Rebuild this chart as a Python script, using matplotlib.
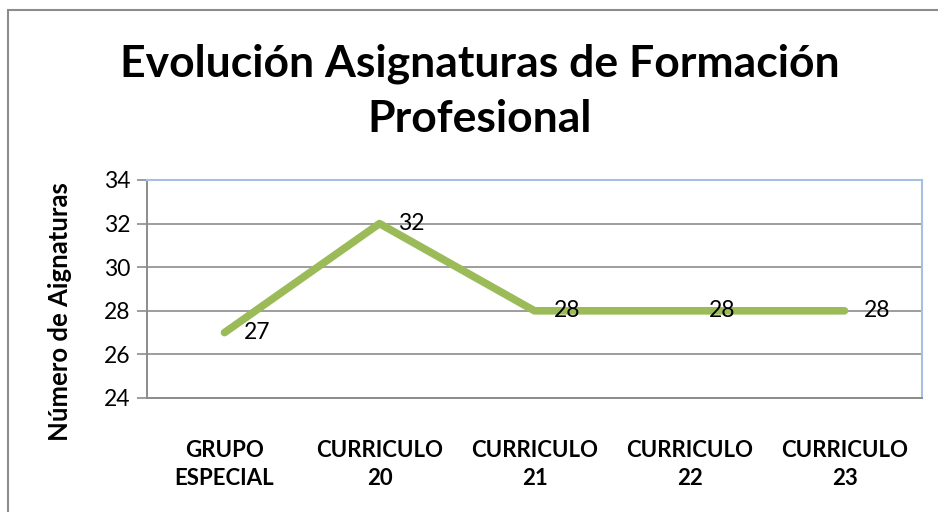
import matplotlib.pyplot as plt
from matplotlib.patches import Rectangle

categories = ['GRUPO\nESPECIAL', 'CURRICULO\n20', 'CURRICULO\n21', 'CURRICULO\n22', 'CURRICULO\n23']
values = [27, 32, 28, 28, 28]
y_ticks = [24, 26, 28, 30, 32, 34]

plt.rcParams['font.family'] = ['Lato', 'DejaVu Sans']

W, H = 938, 512
fig = plt.figure(figsize=(W / 100, H / 100), dpi=100)
ax = fig.add_axes([147 / W, 1 - 398 / H, (922 - 147) / W, (398 - 180) / H])

# outer chart border
fig.patches.append(Rectangle((8 / W, -0.1), 1.2, 1 - 10 / H + 0.1, transform=fig.transFigure,
                             fill=False, edgecolor='#8c8c8c', linewidth=1.5))

x = list(range(len(categories)))
ax.plot(x, values, color='#9BBB59', linewidth=5.5, solid_capstyle='round', zorder=3)
for xi, v in zip(x, values):
    ax.annotate(str(v), (xi, v), xytext=(19, 0), textcoords='offset pixels',
                ha='left', va='center', fontsize=16.5, zorder=4)

ax.set_xlim(-0.5, len(categories) - 0.5)
ax.set_ylim(24, 34)
ax.set_yticks(y_ticks)
ax.set_xticks(x)
ax.set_xticklabels(categories, fontsize=16, fontweight='bold', linespacing=1.45)
ax.tick_params(axis='x', length=0, pad=30)
ax.tick_params(axis='y', length=7, width=1.2, color='#8c8c8c', labelsize=16.5, pad=5)
ax.grid(axis='y', color='#8c8c8c', linewidth=1.2)
ax.set_axisbelow(True)

for s in ['left', 'bottom']:
    ax.spines[s].set_color('#8c8c8c')
    ax.spines[s].set_linewidth(1.4)
for s in ['top', 'right']:
    ax.spines[s].set_color('#A7BFE3')
    ax.spines[s].set_linewidth(1.5)

fig.text(60 / W, 1 - 312 / H, 'Número de Aignaturas', rotation=90,
         ha='center', va='center', fontsize=18.5, fontweight='bold')
fig.text(480 / W, 1 - 91 / H, 'Evolución Asignaturas de Formación\nProfesional',
         ha='center', va='center', fontsize=32, fontweight='bold', linespacing=1.45)

fig.savefig('out.png', dpi=100)
